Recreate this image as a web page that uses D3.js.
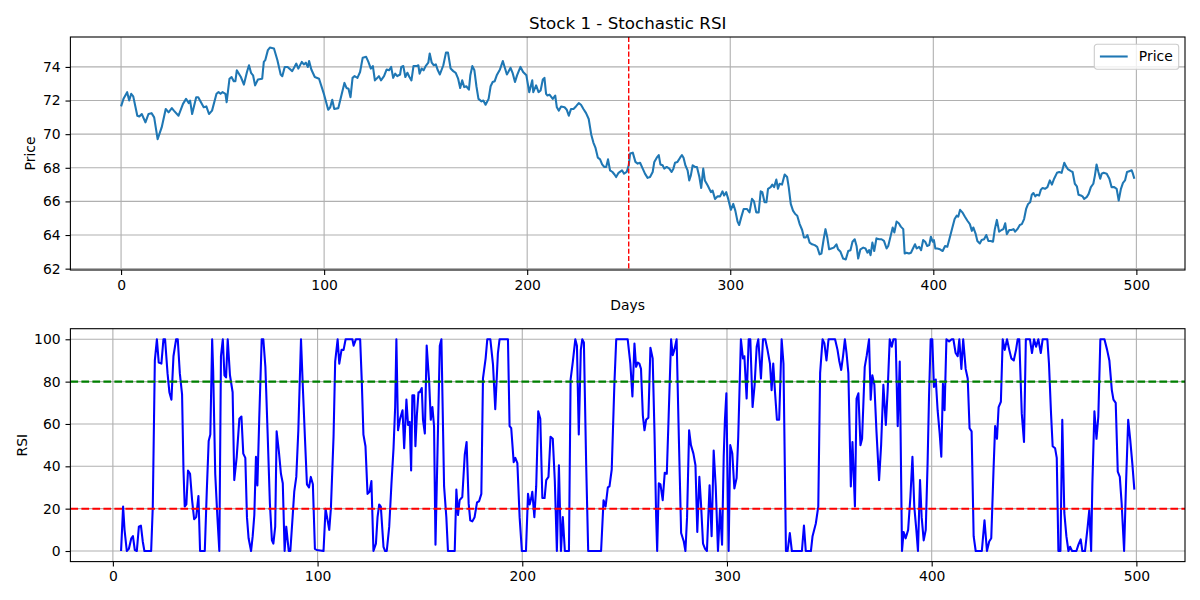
<!DOCTYPE html>
<html>
<head>
<meta charset="utf-8">
<script src="https://cdn.jsdelivr.net/npm/d3@7"></script>
<style>
  body { margin: 0; background: #fff; }
  svg { display: block; font-family: "DejaVu Sans", sans-serif; }
</style>
</head>
<body>
<script>
// values
var priceDays = [0,1.2,3,4,5,6,8,9,10.2,12,13.5,15,16.3,18,20,22,23.4,25,26,28.3,30.5,32,33.3,34,35,37,38,40.7,42,43.3,44.8,47,48,49,50,51.4,52,53.4,54.4,55.5,56.3,57,59,60.5,62,63,64,65,66,67.4,69.5,70.3,71,72.3,73.3,75.3,77,78.6,79.4,80.6,82,84.3,86.3,87.3,89,90,91,92,92.6,93.7,95.4,97.5,
  100,102,103,104,105,107,108.7,110,111,112,113,114,115,116.4,117.7,119,120.7,121.8,123,124,125,127,128,129.5,130.8,132,133,134,135,136,137.4,138,139,140,141,142,143,144,145.6,146.4,147,148,149,150,151.3,152,153,154,155,156,157,158.7,160,161,162.3,163.6,164.8,166,167,168,169,170,171.3,172,173,174,175,176,177.5,178.4,179.5,181,182,183,184,185,186.6,188,189,190,190.7,191.8,192.8,194,195,196.7,198,199.6,
  201,202.5,203,204.4,205.6,206.6,207.7,208.5,209.3,210,211,212.6,213.8,214.6,215.6,216.7,218.4,219.5,220.5,221.6,222.8,224,225.4,226.5,227.7,229,230.3,231.5,232.6,233.6,234.8,235.9,236.9,238,238.9,239.8,240.8,242,243,243.8,245,246.7,247.7,249,250,250.7,252,253.3,254.4,255.6,256.9,258,259.3,260.5,261.8,262.6,263.8,264.8,265.6,266.7,267.5,268.7,270,271.1,272,272.8,274,275.3,276.2,277,277.9,279,279.8,280.6,281.5,282.6,283.6,284.8,285.7,286.7,287.5,288.9,290.5,291.3,292.5,293.8,295,296.2,297,298,299,300.3,301.5,302.5,303.6,304.4,
  305.4,306.6,308.2,309.5,310.7,311.7,312.8,314,315,315.8,316.9,317.8,318.6,319.9,320.7,321.6,322.7,323.5,324.3,325.5,326.8,328,328.8,329.8,330.9,332,333,334.2,335.4,336.3,337.2,338,339.1,340.3,341.6,342.8,344,344.9,346,346.9,347.8,348.7,349.8,351,352.3,353.1,354.3,355.6,356.9,358.1,359.2,360.2,361.3,362.2,363,364.1,365.5,366.6,367.6,368.4,369.1,370,370.9,372,373.4,374.5,375.7,377,377.8,379,380,380.8,381.9,383,384,385.2,385.9,386.8,388,389,389.8,391,391.8,393,394,395,396,397,398,398.8,399.7,400.3,401,402,403.3,404.6,405.8,406.9,407.9,
  409.4,410.5,411.5,412.3,413.2,414.3,415.5,416.8,418,419,419.7,420.9,421.7,422.9,423.8,425,426.1,427.1,428.3,429.4,430.3,431.3,432.4,433.6,434.5,435.4,436.2,437.4,438.5,439.5,440.3,441.4,442.6,443.6,444.7,445.7,446.7,447.7,448.5,449.3,450.2,451,452.1,453,453.8,455,456.2,457.4,458.4,459.5,460.9,462,463.2,464.5,465.3,466.4,467.8,468.6,469.7,470.7,471.5,472.7,473.5,474.3,475.5,476.5,477.6,478.8,479.6,480.4,481.3,482.2,482.9,483.9,485.4,486.7,487.8,489.1,490.3,491.3,492.4,493.4,494.4,495.4,496.5,497.7,498.3,499];
var priceValues = [71.65,72.1,72.5,72.0,72.4,72.25,71.1,71.05,71.2,70.7,71.2,71.25,71.0,69.7,70.4,71.5,71.3,71.55,71.4,71.1,71.8,72.1,71.85,72.0,71.2,72.2,72.2,71.6,71.65,71.2,71.4,72.4,72.5,72.4,72.5,72.4,71.9,73.3,73.4,73.15,73.15,73.8,73.4,72.95,73.7,74.1,73.65,73.5,72.9,73.25,73.3,74.3,74.4,75.0,75.15,75.1,74.4,73.55,73.45,74.0,74.0,73.75,74.2,73.9,74.3,74.15,74.25,74.0,74.35,73.85,73.4,73.3,
  72.35,71.45,71.6,72.05,71.5,71.55,72.4,73.05,72.75,72.7,72.2,73.35,73.45,73.35,73.7,74.55,74.6,74.3,73.9,74.05,73.2,73.45,73.2,73.45,73.85,73.8,74.0,73.35,73.6,73.45,73.55,74.0,74.05,73.4,73.65,73.4,73.2,74.05,74.05,74.1,73.6,73.9,73.8,74.05,74.25,74.8,74.25,74.1,74.15,73.8,73.55,74.1,74.85,74.85,73.9,73.75,73.65,73.3,72.75,73.2,72.8,72.85,72.65,73.5,74.05,73.8,72.85,72.1,71.95,72.0,71.75,72.1,72.85,73.1,73.15,73.5,73.85,74.35,73.95,73.55,73.7,73.95,73.65,73.1,73.5,74.0,73.7,73.5,
  72.5,73.2,72.5,72.9,72.5,72.6,73.25,73.35,72.4,72.3,72.35,72.1,72.3,71.6,71.4,71.65,71.6,71.45,71.1,71.5,71.5,71.65,71.85,71.75,71.5,71.25,70.9,70.0,69.5,69.2,68.6,68.5,68.2,68.05,68.05,68.5,67.85,67.75,67.6,67.45,67.7,67.85,67.65,67.75,68.15,68.85,68.9,68.35,68.25,68.3,67.95,67.65,67.4,67.45,67.75,68.35,68.6,68.75,68.2,68.15,67.95,68.05,67.95,67.75,67.95,68.3,68.35,68.6,68.75,68.6,68.15,67.85,67.25,67.55,68.15,68.05,68.05,67.45,66.8,67.95,67.25,66.95,66.55,66.65,66.15,66.3,66.3,66.6,66.35,66.55,66.15,65.5,65.85,65.45,64.8,64.6,
  65.05,65.55,65.55,65.35,66.15,66.0,65.35,65.35,66.6,66.55,65.95,65.95,66.75,66.85,67.0,66.85,67.3,66.75,67.05,67.0,67.6,67.45,66.85,65.85,65.45,65.25,65.15,64.65,64.3,63.85,63.85,64.0,63.55,63.45,63.4,63.3,62.85,62.9,63.75,64.35,63.85,63.15,63.2,63.25,63.45,63.15,63.0,62.6,62.55,63.05,63.1,63.6,63.75,63.35,62.6,63.15,63.25,63.2,62.95,63.1,62.8,63.55,63.05,63.8,63.75,63.75,63.65,63.2,63.35,63.95,64.45,64.15,64.8,64.7,64.5,64.35,62.9,62.95,62.9,62.95,63.15,63.45,63.2,63.3,63.1,63.7,63.6,63.35,63.4,63.9,63.6,63.7,63.2,63.2,63.15,63.05,63.35,63.3,63.75,
  64.45,64.95,65.15,65.1,65.5,65.35,65.1,64.85,64.65,64.25,64.45,64.05,63.65,63.5,63.7,63.75,64.0,63.65,63.65,63.6,64.35,64.9,64.2,64.3,64.35,64.7,64.05,64.3,64.3,64.35,64.2,64.35,64.6,64.65,64.95,65.55,65.85,65.95,66.4,66.5,66.3,66.4,66.35,66.7,66.8,66.75,66.85,67.25,67.0,67.35,67.7,67.75,67.7,68.3,68.1,67.9,67.8,67.75,67.05,66.9,66.4,66.35,66.3,66.15,66.25,66.45,66.85,67.05,67.55,68.2,67.75,67.35,67.65,67.7,67.65,67.35,66.85,66.85,66.75,66.05,66.75,67.1,67.25,67.75,67.8,67.85,67.65,67.35];

var rsiDays = [4,5,5.7,6.8,7.8,9,9.8,10.7,11.7,12.7,13.7,14.6,15.4,18.7,19.5,20.5,21.5,22.4,23.7,24.7,25.5,26.7,27.6,28.6,29.6,30.9,31.7,32.7,33.8,34.5,35.1,35.9,36.7,37.7,38.7,39.7,40.7,41.8,42.6,44.9,45.9,46.8,47.6,48.5,49,50,51,52,52.8,53.7,54.5,55.3,56.1,57.2,58.5,59.3,60.5,61.8,62.8,63.7,64.7,65.5,66.3,67.5,68.3,69.1,69.9,70.6,71.5,72.7,73.5,74.5,75.6,76.7,77.7,78.4,79.3,
  80,81.1,82.1,83,83.9,84.7,85.9,86.7,87.8,88.6,89.6,90.6,91.9,92.8,93.8,94.8,95.8,96.7,97.7,98.7,99.7,102.9,103.9,104.9,105.7,106.5,107.8,108.6,109.8,110.6,111.7,112.7,113.7,117,117.6,118.7,120.8,121.6,122.4,123.4,124.4,125.4,126.3,127.3,128.5,129.3,130.1,130.9,132.2,133,133.8,135,136.1,137.1,137.9,138.5,139.3,140.3,141.5,142.3,143.4,144.2,145,145.7,146.3,147.2,147.8,148.5,149.3,149.9,150.9,151.5,152.4,153.3,154.5,155.3,156.1,156.9,157.6,158.5,159.7,160.5,161.8,162.9,163.7,
  167,167.8,168.6,169.4,170.7,171.9,172.8,173.8,174.6,175.6,176.7,177.9,178.9,180,180.8,182.1,182.9,184.4,185.7,186.8,188.1,188.9,193,193.8,194.6,195.8,196.6,197.6,198.7,199.8,201.8,202.8,203.6,204.4,204.9,205.9,206.8,207.8,208.8,209.8,210.9,211.7,212.8,213.8,214.9,215.9,216.9,217.9,218.9,219.8,220.8,222.8,223.6,224.7,225.9,226.7,227.6,228.6,229.3,230.1,231.2,232.2,238.5,239.7,240.7,241.8,242.6,243.7,245,245.9,
  251.5,252.8,253.8,254.8,255.6,256.4,257.2,258,258.9,259.7,260.5,261.6,262.6,263.7,264.6,265.4,265.9,266.7,267.5,268.6,269.6,270.6,271.5,272.7,273.5,274.3,275.4,276.4,277.6,278.9,279.7,280.5,281.5,282.4,283.6,284.6,285.5,286.5,287.3,288.3,289.3,290.2,291.5,292.5,293.5,294.5,295.6,296.6,297.6,298.4,299,299.7,300.8,301.6,302.6,303.6,304.7,305.5,306.8,307.8,308.5,309.6,310.6,311.4,312.5,313.5,314.5,315.3,316.6,317.6,318.7,319.8,321,321.8,322.6,323.4,324.4,325.5,326.7,327.6,328.8,329.6,330.7,331.7,336.6,
  337.6,338.5,341,341.8,343.4,344.6,345.5,346.7,347.6,348.6,349.6,352.8,354,354.8,355.8,356.7,357.6,358.4,359.3,360.5,361.3,362.5,363.3,364.2,365.2,366,367.3,368.3,369.4,370.2,371,372,373,374.3,375.3,376.4,377.6,378.5,379.5,380.5,381.3,382.4,383.4,384.4,385.5,386.3,387.3,388.5,389.6,390.6,391.5,392.5,393.3,394.3,395.1,396.1,397.1,398,398.7,399.5,400.3,401.1,402,402.9,403.9,404.7,405.5,406.3,407.2,408.5,409.8,410.6,411.7,412.7,413.5,414.5,415.4,416.6,417.6,418.5,419.5,420.5,421.5,
  424.5,425.8,427,428.1,429.1,430.2,431,431.9,432.7,433.8,434.7,435.7,436.8,437.9,438.9,440.1,441.2,442,442.8,444,445.1,446,448,449,450,451,452.1,453.3,454.2,456.5,457.3,458.3,459.1,460.3,461.1,461.9,462.9,463.8,464.8,465.8,466.8,467.6,468.6,470.7,471.7,472.8,473.6,474.9,476.2,477,477.9,478.5,479.5,480.5,481.4,482.4,484.4,485.7,486.8,488,488.8,489.9,490.9,491.9,492.8,494,495,496,497,498,499];
var rsiValues = [0,21,10,0,1,6,7,0.5,0,11.5,12,4.5,0,0,21,90,100,89,88.5,100,100,84,75,71.5,92,100,100,84,74,38,21,22,38,36.5,24,15,16,26,0,0,29,52,55,100,85,36.5,17,0,92,100,83,82,100,83,75,33.5,44.5,62.5,63.5,46,44,16,6,0,7,17,44.5,31,62.5,100,100,87,55.5,22.5,5,3.5,11.5,
  56.5,47,36.5,32,0,11.5,0,0,16,28,35,57,100,77.5,54,31.5,30,35,31.5,1,0.5,0,20,14.5,10,20,54,89.5,100,88.5,95,95,100,100,97,100,100,80,55,49.5,27,28,33,0,3.5,16,22,21,2,0,0,11.5,32,48.5,68,100,57,62.5,66.5,48.5,71.5,59.5,61,38,73.5,73.5,49.5,64,75,75,77,62,55.5,97,80,62,68,59,3,43,97,100,30.5,16,0,
  0,29,17,24,25.5,45.5,51.5,22.5,14.5,14,16,23,23.5,27,81.5,91,100,100,88,67,93.5,100,100,59,58,42,44,41.5,16,0,0,27,22,25,28,16,30.5,66,62.5,25,25,33.5,35,54,53,33,0,40.5,0,16,0,0,81,89.5,100,97,55,95,100,98.5,41.5,0,0,24,21,30,30.5,38.5,79,100,
  100,88.5,73,98,87,89,88.5,86,64,57,62,63,96,91,55.5,16,0,32,31.5,24,37,36.5,63.5,100,92.5,95,100,57,8.5,4.5,0,16,57,50,46,40.5,9,35,22.5,3.5,1,0,31,7,47.5,30.5,0,20,3,44.5,62,74.5,0,50,46,29.5,34.5,54,100,91,92,72,100,100,68,78.5,96.5,100,81.5,100,100,95,88.5,76,88.5,76,62,62,100,88.5,0,0,8.5,0,0,
  12,0,0,7,13,21,84,100,98,90,100,100,95,90,85.5,92,100,93.5,84,30.5,51.5,21,72,74.5,50,53,87,92.5,100,71.5,83,78.5,57,33.5,50,78.5,59.5,76,100,96.5,100,100,59,89.5,0,9,6,10,25.5,44.5,21,10,0,33.5,16,5,10,41.5,73,100,100,77.5,81,66.5,55.5,44.5,79,66.5,100,99,100,100,93.5,92,100,86,100,86,81.5,58,56.5,7,0,
  0,14.5,0,4.5,6,38,59,53,68,70.5,100,95,100,95,91,90,95,100,100,65,51.5,100,100,93.5,100,96.5,100,93.5,100,100,88.5,65,49.5,48.5,44,0,0,62,18,7,0,2,0,0,3,5.5,0,0,11.5,19.5,0,32,66,53,63.5,100,100,95,90,76,71.5,70,37.5,35,22.5,0,33.5,62,52.5,41.5,29];

var dayTicks = [0, 100, 200, 300, 400, 500];
var priceTicks = [62, 64, 66, 68, 70, 72, 74];
var rsiTicks = [0, 20, 40, 60, 80, 100];
var splitDay = 250;
var overbought = 80;
var oversold = 20;

var W = 1200, H = 600;
var left = 70.4, right = 1185;
var panels = [{top: 37, bottom: 270}, {top: 328.7, bottom: 561.6}];
var fontPx = 13.9;

var svg = d3.select("body").append("svg")
    .attr("width", W).attr("height", H)
    .attr("viewBox", "0 0 " + W + " " + H);

// matplotlib style 5% margins
function padded(ext) {
  var m = (ext[1] - ext[0]) * 0.05;
  return [ext[0] - m, ext[1] + m];
}

var x1 = d3.scaleLinear().domain(padded(d3.extent(priceDays))).range([left, right]);
var y1 = d3.scaleLinear().domain(padded(d3.extent(priceValues))).range([panels[0].bottom, panels[0].top]);
var x2 = d3.scaleLinear().domain(padded(d3.extent(rsiDays))).range([left, right]);
var y2 = d3.scaleLinear().domain(padded([0, 100])).range([panels[1].bottom, panels[1].top]);

function drawGrid(x, y, xt, yt, p) {
  var g = svg.append("g").attr("stroke", "#b0b0b0").attr("stroke-width", 1.1);
  g.selectAll("line.v").data(xt).enter().append("line")
    .attr("x1", function(d){return x(d);}).attr("x2", function(d){return x(d);})
    .attr("y1", p.top).attr("y2", p.bottom);
  g.selectAll("line.h").data(yt).enter().append("line")
    .attr("y1", function(d){return y(d);}).attr("y2", function(d){return y(d);})
    .attr("x1", left).attr("x2", right);
}

function drawAxes(x, y, xt, yt, p) {
  var gx = svg.append("g").attr("transform", "translate(0," + p.bottom + ")")
    .call(d3.axisBottom(x).tickValues(xt).tickFormat(d3.format("d")).tickSize(4.9).tickPadding(4.9));
  var gy = svg.append("g").attr("transform", "translate(" + left + ",0)")
    .call(d3.axisLeft(y).tickValues(yt).tickFormat(d3.format("d")).tickSize(4.9).tickPadding(4.9));
  [gx, gy].forEach(function(g){
    g.select(".domain").remove();
    g.selectAll("line").attr("stroke", "#000").attr("stroke-width", 1.1);
    g.selectAll("text").attr("font-size", fontPx).attr("font-family", "DejaVu Sans").attr("fill", "#000");
  });
  svg.append("rect")
    .attr("x", left).attr("y", p.top)
    .attr("width", right - left).attr("height", p.bottom - p.top)
    .attr("fill", "none").attr("stroke", "#000").attr("stroke-width", 1.1);
}

// top panel: price
drawGrid(x1, y1, dayTicks, priceTicks, panels[0]);

var priceLine = d3.line()
    .x(function(d, i){return x1(priceDays[i]);})
    .y(function(d){return y1(d);});

svg.append("path")
    .datum(priceValues)
    .attr("d", priceLine)
    .attr("fill", "none")
    .attr("stroke", "#1f77b4")
    .attr("stroke-width", 2.08)
    .attr("stroke-linejoin", "round");

svg.append("line")
    .attr("x1", x1(splitDay)).attr("x2", x1(splitDay))
    .attr("y1", panels[0].top).attr("y2", panels[0].bottom)
    .attr("stroke", "#ff0000").attr("stroke-width", 1.39)
    .attr("stroke-dasharray", "5.1,2.2");

drawAxes(x1, y1, dayTicks, priceTicks, panels[0]);

// bottom panel: stochastic RSI
drawGrid(x2, y2, dayTicks, rsiTicks, panels[1]);

var rsiLine = d3.line()
    .x(function(d, i){return x2(rsiDays[i]);})
    .y(function(d){return y2(d);});

svg.append("path")
    .datum(rsiValues)
    .attr("d", rsiLine)
    .attr("fill", "none")
    .attr("stroke", "#0000ff")
    .attr("stroke-width", 2.08)
    .attr("stroke-linejoin", "round");

[[overbought, "#008000"], [oversold, "#ff0000"]].forEach(function(t){
  svg.append("line")
    .attr("x1", left).attr("x2", right)
    .attr("y1", y2(t[0])).attr("y2", y2(t[0]))
    .attr("stroke", t[1]).attr("stroke-width", 2.08)
    .attr("stroke-dasharray", "7.7,3.3");
});

drawAxes(x2, y2, dayTicks, rsiTicks, panels[1]);

// texts
svg.append("text")
    .attr("x", (left + right) / 2).attr("y", 29)
    .attr("text-anchor", "middle")
    .attr("font-size", 16.7)
    .text("Stock 1 - Stochastic RSI");

svg.append("text")
    .attr("x", (left + right) / 2).attr("y", 310)
    .attr("text-anchor", "middle")
    .attr("font-size", fontPx)
    .text("Days");

svg.append("text")
    .attr("transform", "translate(35," + (panels[0].top + panels[0].bottom) / 2 + ") rotate(-90)")
    .attr("text-anchor", "middle")
    .attr("font-size", fontPx)
    .text("Price");

svg.append("text")
    .attr("transform", "translate(27," + (panels[1].top + panels[1].bottom) / 2 + ") rotate(-90)")
    .attr("text-anchor", "middle")
    .attr("font-size", fontPx)
    .text("RSI");

// legend
var legend = svg.append("g").attr("transform", "translate(1094.3,44.3)");
legend.append("rect")
    .attr("width", 84.4).attr("height", 25)
    .attr("rx", 2.8)
    .attr("fill", "#fff").attr("fill-opacity", 0.8)
    .attr("stroke", "#cccccc").attr("stroke-width", 1.1);
legend.append("line")
    .attr("x1", 5.6).attr("x2", 33.4)
    .attr("y1", 12.2).attr("y2", 12.2)
    .attr("stroke", "#1f77b4").attr("stroke-width", 2.08);
legend.append("text")
    .attr("x", 44.5).attr("y", 17.2)
    .attr("font-size", fontPx)
    .text("Price");
</script>
</body>
</html>
